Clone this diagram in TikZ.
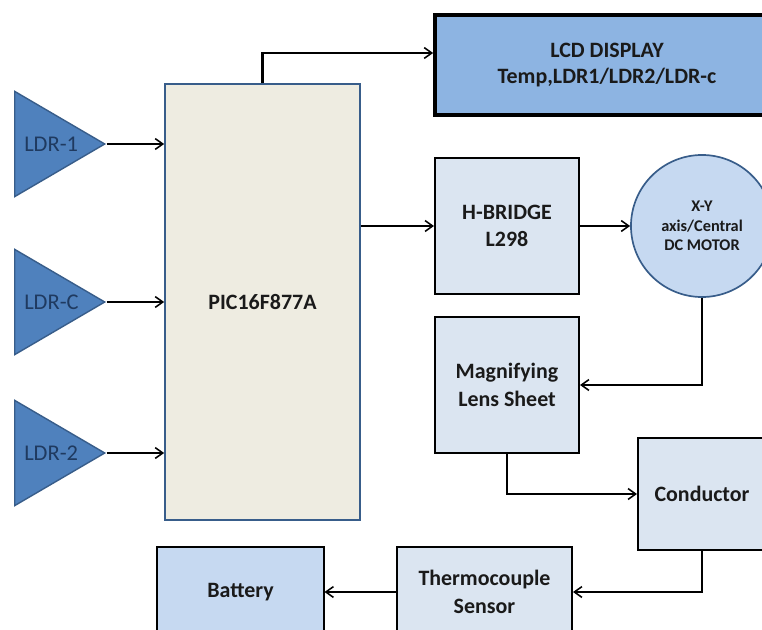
\documentclass[tikz,border=0pt]{standalone}
\usepackage{fontspec}
\setmainfont{Carlito}
\usetikzlibrary{arrows.meta, calc, positioning, shapes.geometric}
\definecolor{ldrblue}{HTML}{4F81BD}
\definecolor{ldrline}{HTML}{385D8A}
\definecolor{ldrtext}{HTML}{1F3A60}
\definecolor{picfill}{HTML}{EEECE1}
\definecolor{lightbox}{HTML}{DBE5F1}
\definecolor{midbox}{HTML}{C6D9F1}
\definecolor{lcdfill}{HTML}{8DB4E2}
\definecolor{txtdark}{HTML}{1A1A1A}

\begin{document}
\begin{tikzpicture}[x=0.025cm, y=-0.025cm,
  >={Straight Barb[length=1.9mm, width=2.7mm, line width=1.1pt]},
  blk/.style={draw=black, line width=1.4pt, fill=lightbox, align=center,
    font=\fontsize{15.6}{19.5}\selectfont\bfseries, text=txtdark, inner sep=0pt},
  ldr/.style={isosceles triangle, isosceles triangle stretches, draw=ldrline,
    line width=1pt, fill=ldrblue, minimum width=2.63cm, minimum height=2.25cm,
    inner sep=0pt, anchor=lower side},
  ldrlbl/.style={font=\fontsize{16}{19}\selectfont, text=ldrtext, anchor=west, inner sep=0pt},
  conn/.style={->, line width=1.5pt, black}]
  \useasboundingbox (0,0) rectangle (762,630);
  % Light sensors on the left
  \node[ldr] (ldr1) at (14,144) {};
  \node[ldr] (ldrc) at (14,302) {};
  \node[ldr] (ldr2) at (14,453) {};
  \node[ldrlbl] (ldr1lbl) at ([xshift=0.25cm]ldr1.lower side) {LDR-1};
  \node[ldrlbl] (ldrclbl) at ([xshift=0.25cm]ldrc.lower side) {LDR-C};
  \node[ldrlbl] (ldr2lbl) at ([xshift=0.25cm]ldr2.lower side) {LDR-2};
  % Controller
  \node[blk, draw=ldrline, line width=1.2pt, fill=picfill, minimum width=4.875cm,
    minimum height=10.9cm] (pic) at (262.5,302) {PIC16F877A};
  % Outputs
  \node[blk, line width=2.6pt, fill=lcdfill, minimum width=8.6cm, minimum height=2.5cm]
    (lcd) at (607,65) {LCD DISPLAY\\[-1pt]Temp,LDR1/LDR2/LDR-c};
  \node[blk, minimum width=3.6cm, minimum height=3.4cm] (hb) at (507,226) {H-BRIDGE\\L298};
  \node[blk, circle, draw=ldrline, line width=1.2pt, fill=midbox, minimum size=3.55cm,
    font=\fontsize{11.6}{14}\selectfont\bfseries] (motor) at (702,226)
    {X-Y\\axis/Central\\DC MOTOR};
  \node[blk, minimum width=3.6cm, minimum height=3.4cm] (mag) at (507,385)
    {Magnifying\\Lens Sheet};
  \node[blk, minimum width=3.2cm, minimum height=2.8cm] (cond) at (702,494) {Conductor};
  \node[blk, minimum width=4.375cm, minimum height=2.25cm] (thermo) at (484.5,592)
    {Thermocouple\\Sensor};
  \node[blk, fill=midbox, minimum width=4.15cm, minimum height=2.25cm] (batt) at (240.5,592)
    {Battery};
  % Connectors
  \draw[conn] (ldr1.apex) -- (ldr1.apex -| pic.west);
  \draw[conn] (ldrc.apex) -- (ldrc.apex -| pic.west);
  \draw[conn] (ldr2.apex) -- (ldr2.apex -| pic.west);
  \draw[conn] (pic.north) |- ([yshift=0.3cm]lcd.west);
  \draw[conn] (pic.east |- hb.west) -- (hb.west);
  \draw[conn] (hb.east) -- (motor.west);
  \draw[conn] (motor.south) |- (mag.east);
  \draw[conn] (mag.south) |- (cond.west);
  \draw[conn] (cond.south) |- (thermo.east);
  \draw[conn] (thermo.west) -- (batt.east);
\end{tikzpicture}
\end{document}
